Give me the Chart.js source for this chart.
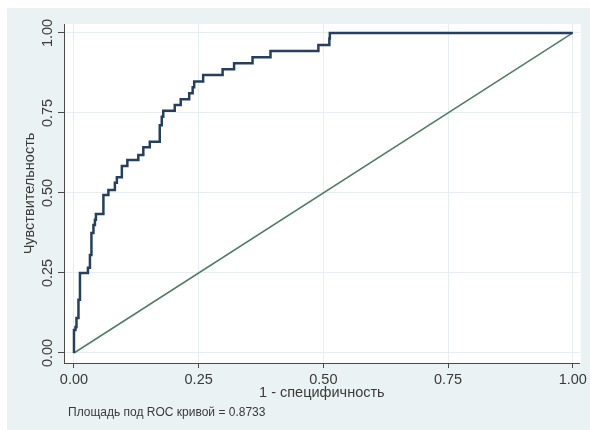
<!DOCTYPE html>
<html>
<head>
<meta charset="utf-8">
<script src="https://cdn.jsdelivr.net/npm/chart.js@4"></script>
<style>
    html, body { margin: 0; padding: 0; background: #ffffff; }
    canvas { display: block; }
</style>
</head>
<body>
<canvas id="roc" width="590" height="430"></canvas>
<script>
// Точки ROC-кривой (1 - специфичность, чувствительность), ступенчатая линия
const fpr = [0, 0.003, 0.005, 0.009, 0.012, 0.028, 0.032, 0.035, 0.039, 0.042, 0.044,
    0.059, 0.069, 0.082, 0.086, 0.096, 0.107, 0.129, 0.139, 0.152, 0.172, 0.176,
    0.179, 0.202, 0.214, 0.231, 0.238, 0.241, 0.259, 0.298, 0.321, 0.358, 0.394,
    0.490, 0.512, 0.513, 1];
const tpr = [0, 0.072, 0.081, 0.109, 0.166, 0.250, 0.266, 0.306, 0.375, 0.400, 0.416,
    0.434, 0.494, 0.509, 0.532, 0.549, 0.584, 0.603, 0.619, 0.643, 0.660, 0.712,
    0.738, 0.757, 0.775, 0.793, 0.812, 0.830, 0.848, 0.869, 0.887, 0.905, 0.924,
    0.944, 0.962, 0.983, 1];

// Диагональ (случайный классификатор)
const refX = [0, 1];
const refY = [0, 1];

const tickValues = [0, 0.25, 0.5, 0.75, 1];
const xTitle = '1 - специфичность';
const yTitle = 'Чувствительность';
const note = 'Площадь под ROC кривой = 0.8733';

const FONT = 'Liberation Sans, Arial, sans-serif';
const TEXT = '#3a3a3a';
const AXIS = '#4a4a4a';
const GRID = '#e7eef0';
const BG = '#eaf2f3';

// фон графика и подпись с площадью
const backgroundPlugin = {
    id: 'stataBg',
    beforeDraw(chart) {
        const { ctx, chartArea } = chart;
        ctx.save();
        ctx.fillStyle = BG;
        ctx.fillRect(7, 8, chart.width - 7, chart.height - 8);
        ctx.fillStyle = '#ffffff';
        ctx.fillRect(chartArea.left, chartArea.top,
            chartArea.right - chartArea.left + 1, chartArea.bottom - chartArea.top);
        ctx.restore();
    },
    afterDraw(chart) {
        const { ctx, chartArea } = chart;
        const y = chart.scales.y;
        ctx.save();
        // повернутые подписи оси Y
        ctx.fillStyle = TEXT;
        ctx.font = '14.5px ' + FONT;
        ctx.textAlign = 'center';
        ctx.textBaseline = 'middle';
        tickValues.forEach(v => {
            ctx.save();
            ctx.translate(chartArea.left - 16, y.getPixelForValue(v));
            ctx.rotate(-Math.PI / 2);
            ctx.fillText(v.toFixed(2), 0, 0);
            ctx.restore();
        });
        // примечание внизу
        ctx.font = '12px ' + FONT;
        ctx.textAlign = 'left';
        ctx.fillText(note, chartArea.left + 4, 413);
        ctx.restore();
    }
};

const fixedTicks = scale => {
    scale.ticks = tickValues.map(v => ({ value: v }));
};

new Chart(document.getElementById('roc'), {
    type: 'line',
    data: {
        datasets: [
            {
                label: 'ROC',
                data: fpr.map((x, i) => ({ x: x, y: tpr[i] })),
                borderColor: '#263f5c',
                borderWidth: 2.5,
                stepped: 'after',
                pointRadius: 0,
                fill: false
            },
            {
                label: 'Reference',
                data: refX.map((x, i) => ({ x: x, y: refY[i] })),
                borderColor: '#4f7c66',
                borderWidth: 1.5,
                pointRadius: 0,
                fill: false
            }
        ]
    },
    options: {
        responsive: false,
        animation: false,
        layout: { padding: { left: 7, top: 24, right: 10, bottom: 3 } },
        plugins: {
            legend: { display: false },
            tooltip: { enabled: false }
        },
        scales: {
            x: {
                type: 'linear',
                min: -0.02,
                max: 1.014,
                afterBuildTicks: fixedTicks,
                afterFit(scale) { scale.height = 64; },
                border: { color: AXIS, width: 1 },
                grid: { color: GRID, tickColor: AXIS, tickLength: 5 },
                ticks: {
                    color: TEXT,
                    padding: 3,
                    font: { family: FONT, size: 14.5 },
                    maxRotation: 0,
                    callback: v => v.toFixed(2)
                },
                title: {
                    display: true,
                    text: xTitle,
                    color: TEXT,
                    font: { family: FONT, size: 14.5 },
                    padding: { top: 0, bottom: 25 }
                }
            },
            y: {
                type: 'linear',
                min: -0.03125,
                max: 1.028,
                afterBuildTicks: fixedTicks,
                afterFit(scale) { scale.width = 57; },
                border: { color: AXIS, width: 1 },
                grid: { color: GRID, tickColor: AXIS, tickLength: 6 },
                ticks: { display: false },
                title: {
                    display: true,
                    text: yTitle,
                    color: TEXT,
                    font: { family: FONT, size: 14.5 },
                    padding: { top: 14, bottom: 0 }
                }
            }
        }
    },
    plugins: [backgroundPlugin]
});
</script>
</body>
</html>
